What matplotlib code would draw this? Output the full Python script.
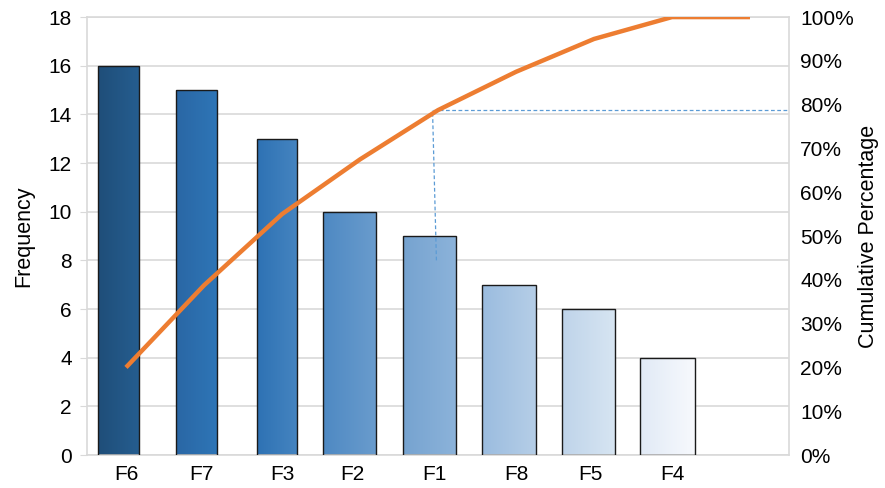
import numpy as np
import matplotlib.pyplot as plt
from matplotlib.colors import LinearSegmentedColormap

plt.rcParams['font.family'] = ['Liberation Sans', 'DejaVu Sans']

# data
cats = ['F6', 'F7', 'F3', 'F2', 'F1', 'F8', 'F5', 'F4']
freq = [16, 15, 13, 10, 9, 7, 6, 4]
cum_pct = np.cumsum(freq) / np.sum(freq) * 100
cum_pct = list(cum_pct) + [100.0]   # line runs one slot past the last bar

# bar look (left colour, right colour, width, offset)
grad = [('#1f4e79', '#255d8f'), ('#2a67a5', '#2e75b6'), ('#2e72b4', '#4584c0'),
        ('#4e89c3', '#6a9ccd'), ('#76a3d0', '#8cb3da'), ('#9bbcdf', '#b5cee7'),
        ('#bfd4ea', '#d7e5f2'), ('#e1eaf6', '#f7f9fd')]
widths = [0.525, 0.525, 0.525, 0.685, 0.685, 0.69, 0.685, 0.70]
shift = [-0.096, -0.09, -0.064, -0.135, -0.11, -0.09, -0.07, -0.058]
lab_shift = [0.0, -0.03, 0.0, -0.1, -0.05, 0.0, -0.04, 0.0]

fig = plt.figure(figsize=(8.85, 4.88), dpi=100)
ax = fig.add_axes([0.0983, 0.0676, 0.7932, 0.8974])
grid_c = '#d9d9d9'

x = np.arange(len(cats))
bars = ax.bar(x + np.array(shift), freq, width=widths, facecolor='none',
              edgecolor='#1a1a1a', linewidth=1.0, zorder=3)
g = np.linspace(0, 1, 64).reshape(1, -1)
for b, (c0, c1) in zip(bars, grad):
    cm = LinearSegmentedColormap.from_list('g', [c0, c1])
    x0, y0 = b.get_x(), b.get_y()
    im = ax.imshow(g, cmap=cm, aspect='auto', zorder=2,
                   extent=(x0, x0 + b.get_width(), y0, y0 + b.get_height()))
    im.set_clip_path(b)

ax.set_xlim(-0.5, len(cats) + 0.5)
ax.set_ylim(0, 18)
ax.set_yticks(range(0, 19, 2))
ax.set_xticks(x + np.array(lab_shift))
ax.set_xticklabels(cats)
ax.grid(axis='y', color=grid_c, linewidth=1.2, zorder=0)
ax.set_axisbelow(True)
for s in ax.spines.values():
    s.set_color(grid_c)
    s.set_linewidth(1.2)
ax.tick_params(axis='y', labelsize=15, colors=grid_c, labelcolor='black', length=5, pad=6)
ax.tick_params(axis='x', labelsize=15, length=0, pad=7)
ax.set_ylabel('Frequency', fontsize=15.5, labelpad=10)

ax2 = ax.twinx()
ax2.set_ylim(0, 100)
ax2.set_yticks(range(0, 101, 10))
ax2.set_yticklabels([f'{v}%' for v in range(0, 101, 10)])
ax2.tick_params(axis='y', labelsize=15, length=0, pad=8)
for s in ax2.spines.values():
    s.set_visible(False)
ax2.set_ylabel('Cumulative Percentage', fontsize=15.5, labelpad=3)

xl = np.arange(len(cum_pct))
ax2.plot(xl, cum_pct, color='#ed7d31', linewidth=3.2, zorder=5, solid_capstyle='butt')

# 80% marker lines at F1
k = cats.index('F1')
ax2.plot([k - 0.02, k - 0.07], [8 / 18 * 100, cum_pct[k]],
         color='#5b9bd5', linewidth=0.9, linestyle=(0, (3, 2)), zorder=4)
ax2.plot([k - 0.07, len(cats) + 0.5], [cum_pct[k], cum_pct[k]],
         color='#5b9bd5', linewidth=0.9, linestyle=(0, (3, 2)), zorder=4)

fig.savefig('out.png', dpi=100)
